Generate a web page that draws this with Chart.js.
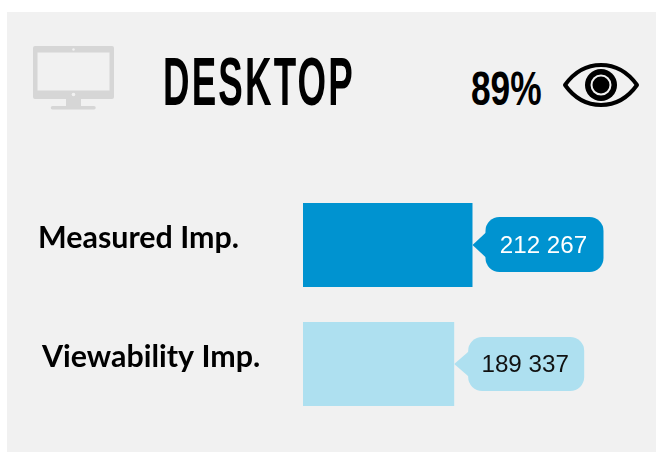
<!DOCTYPE html>
<html>
<head>
<meta charset="utf-8">
<script src="https://cdn.jsdelivr.net/npm/chart.js@4"></script>
<style>
  html, body { margin: 0; background: #fff; }
  #wrap { position: relative; width: 656px; height: 452px; overflow: hidden; }
  #panel { position: absolute; left: 7px; top: 12px; right: 0; bottom: 0; background: #f1f1f1; }
  canvas { position: absolute; left: 0; top: 0; }
  .head { position: absolute; color: #000; font-family: "Liberation Sans Narrow", "Liberation Sans"; font-weight: bold; white-space: nowrap; transform-origin: 0 0; line-height: 1; }
  #title { left: 163px; top: 47px; font-size: 68px; letter-spacing: 4px; transform: scaleX(0.54); }
  #pct { left: 471px; top: 65px; font-size: 48px; transform: scaleX(0.735); }
  svg { position: absolute; }
</style>
</head>
<body>
<div id="wrap">
  <div id="panel"></div>
  <div id="title" class="head"></div>
  <div id="pct" class="head"></div>
  <!-- monitor icon -->
  <svg style="left:32px;top:45px" width="84" height="66" viewBox="0 0 84 66">
    <path fill-rule="evenodd" fill="#d6d6d6" d="M3 1H80a2 2 0 0 1 2 2V52a2 2 0 0 1-2 2H3a2 2 0 0 1-2-2V3a2 2 0 0 1 2-2ZM5.500 7.500V45.500H77.500V7.500Z"/>
    <path fill="#d6d6d6" d="M34 54H49V61H62a1.500 1.500 0 0 1 0 3.500H20.500a1.500 1.500 0 0 1 0-3.500H34Z"/>
    <circle cx="41.500" cy="4.500" r="1.200" fill="#f1f1f1"/>
    <circle cx="41.500" cy="49.500" r="1.800" fill="#f1f1f1"/>
  </svg>
  <!-- eye icon -->
  <svg style="left:560px;top:60px" width="82" height="50" viewBox="0 0 82 50">
    <path fill="none" stroke="#000" stroke-width="4" stroke-linejoin="round" d="M5 25C15 11 27 5 41 5S67 11 77 25C67 39 55 45 41 45S15 39 5 25Z"/>
    <circle cx="41" cy="25" r="16" fill="#000"/>
    <circle cx="41" cy="25" r="9.500" fill="none" stroke="#f1f1f1" stroke-width="2"/>
  </svg>
  <canvas id="chart" width="656" height="452"></canvas>
</div>
<script>
const titleText = 'DESKTOP'
const pctText = '89%'
const categories = ['Measured Imp.', 'Viewability Imp.']
const values = [212267, 189337]
const valueLabels = ['212 267', '189 337']
const barColors = ['#0093d0', '#aee0f0']
const bubbleText = ['#ffffff', '#111111']

document.getElementById('title').textContent = titleText
document.getElementById('pct').textContent = pctText

const annotate = {
  id: 'annotate',
  afterDatasetsDraw(chart) {
    const { ctx } = chart
    const bars = chart.getDatasetMeta(0).data
    // category names sit a bit above the bar centre and are not aligned to each other
    const labelX = [38, 42]
    bars.forEach((bar, i) => {
      // rounded callout with a small arrow pointing at the bar end
      const left = bar.x + 13 + i, w = 118 - 2 * i, h = 55 - i, top = bar.y - 28 + i
      ctx.save()
      ctx.fillStyle = barColors[i]
      ctx.beginPath()
      ctx.roundRect(left, top, w, h, 14)
      ctx.fill()
      ctx.beginPath()
      ctx.moveTo(bar.x, bar.y)
      ctx.lineTo(left + 1, bar.y - 13)
      ctx.lineTo(left + 1, bar.y + 13)
      ctx.closePath()
      ctx.fill()
      ctx.fillStyle = bubbleText[i]
      ctx.font = '24.200px "Liberation Sans"'
      ctx.textAlign = 'center'
      ctx.textBaseline = 'middle'
      ctx.fillText(valueLabels[i], left + w / 2 - 1, bar.y + 1)
      ctx.fillStyle = '#000'
      ctx.font = 'bold 30.400px Lato'
      ctx.textAlign = 'left'
      ctx.fillText(categories[i], labelX[i], bar.y - 6.500)
      ctx.restore()
    })
  },
}

new Chart(document.getElementById('chart'), {
  type: 'bar',
  data: {
    labels: categories,
    datasets: [{ data: values, backgroundColor: barColors, borderWidth: 0, barPercentage: 0.706, categoryPercentage: 1 }],
  },
  options: {
    indexAxis: 'y',
    responsive: false,
    animation: false,
    layout: { padding: { left: 303, right: 33.600, top: 185.500, bottom: 28.500 } },
    scales: {
      x: { display: false, min: 0, max: 400000 },
      y: { display: false },
    },
    plugins: { legend: { display: false }, tooltip: { enabled: false } },
  },
  plugins: [annotate],
})
</script>
</body>
</html>
